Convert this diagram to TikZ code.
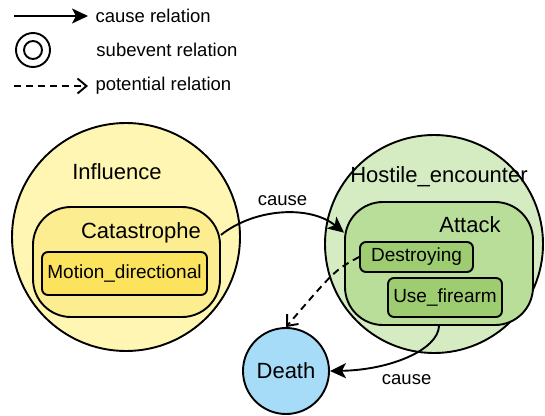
\documentclass[tikz,border=0pt]{standalone}
\usepackage{fontspec}
\setmainfont{Liberation Sans}
\usepackage{tikz}
\usetikzlibrary{arrows.meta, positioning}
\definecolor{influencefill}{HTML}{FEF6B2}
\definecolor{catafill}{HTML}{FCEE90}
\definecolor{motionfill}{HTML}{FBE35E}
\definecolor{hostilefill}{HTML}{D5EBC2}
\definecolor{attackfill}{HTML}{B9DE9A}
\definecolor{eventfill}{HTML}{9DCC71}
\definecolor{deathfill}{HTML}{A6DCF7}

\begin{document}
\begin{tikzpicture}[x=1pt, y=1pt,
    frame/.style={circle, draw, line width=1.9pt, inner sep=0pt},
    group/.style={rectangle, draw, line width=1.9pt, rounded corners=38pt, inner sep=0pt},
    event/.style={rectangle, draw, line width=1.9pt, rounded corners=6pt, inner sep=0pt,
                  font=\fontsize{19}{22}\selectfont},
    title/.style={font=\fontsize{22}{26}\selectfont},
    note/.style={font=\fontsize{18.5}{22}\selectfont},
    cause/.style={line width=1.9pt, -{Stealth[length=16pt, width=15pt, inset=4pt]}},
    potential/.style={line width=1.9pt, dash pattern=on 7pt off 5pt,
                      -{Straight Barb[length=9pt, width=15pt]}}
]
    \useasboundingbox (0,0) rectangle (545,-415);

    % legend
    \coordinate (causeA) at (14,-16);
    \coordinate (causeB) at (88,-16);
    \draw[cause] (causeA) -- (causeB);
    \node[note, right=4pt of causeB] (causetext) {cause relation};
    \node[frame, minimum size=34pt] (subouter) at (33,-50) {};
    \node[frame, minimum size=18pt] (subinner) at (subouter) {};
    \node[note, right=42pt of subouter] (subtext) {subevent relation};
    \coordinate (potA) at (14,-86);
    \coordinate (potB) at (88,-86);
    \draw[potential] (potA) -- (potB);
    \node[note, right=4pt of potB] (pottext) {potential relation};

    % frames
    \node[frame, fill=influencefill, minimum size=228pt] (influence) at (126,-237) {};
    \node[title] (influencetext) at (117,-172) {Influence};
    \node[group, fill=catafill, minimum width=187pt, minimum height=110pt] (catastrophe) at (126.5,-262) {};
    \node[title] (catatext) at (141,-233) {Catastrophe};
    \node[event, fill=motionfill, minimum width=165pt, minimum height=43pt] (motion) at (124.5,-273.5) {Motion\_directional};

    \node[frame, fill=hostilefill, minimum size=218pt] (hostile) at (434,-244) {};
    \node[title] (hostiletext) at (439,-177) {Hostile\_encounter};
    \node[group, fill=attackfill, minimum width=188pt, minimum height=123pt] (attack) at (439,-263.5) {};
    \node[title] (attacktext) at (470,-225) {Attack};
    \node[event, fill=eventfill, minimum width=113pt, minimum height=30pt] (destroying) at (416.5,-257) {Destroying};
    \node[event, fill=eventfill, minimum width=114pt, minimum height=39pt] (firearm) at (445,-297.5) {Use\_firearm};

    \node[frame, fill=deathfill, minimum size=86pt, title] (death) at (286,-371) {Death};

    % relations
    \draw[cause] (catastrophe.16) .. controls (255,-208) and (310,-205) .. (attack.162)
        node[note, pos=0.5, above=3pt] {cause};
    \draw[cause] (attack.south) .. controls (438,-350) and (390,-370) .. (death.east)
        node[note, pos=0.5, below=13pt] {cause};
    \draw[potential] (destroying.west) .. controls (335,-270) .. (death.north);
\end{tikzpicture}
\end{document}
